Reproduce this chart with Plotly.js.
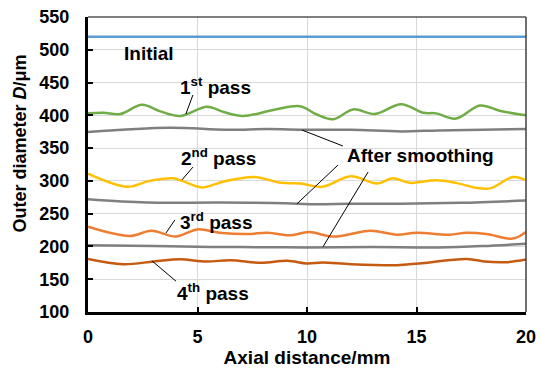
<!DOCTYPE html>
<html>
<head>
<meta charset="utf-8">
<script src="https://cdn.plot.ly/plotly-3.0.1.min.js"></script>
<style>html,body{margin:0;padding:0;background:#fff;}#chart{width:540px;height:374px;}</style>
</head>
<body>
<div id="chart"></div>
<script>
// Data
const initialX = [0, 5, 10, 15, 20];
const initialD = [520, 520, 520, 520, 520];

const pass1X = [0, 0.7, 1.46, 2.47, 3.3, 4.2, 5.43, 6.2, 7.08, 8.45, 9.68, 10.4, 11.2, 12.1, 13.1, 14.3, 15.3, 15.9, 16.8, 17.9, 18.8, 20];
const pass1D = [403, 404, 402, 416, 406, 399, 413, 405, 399, 408, 414, 402, 394, 409, 402, 417, 404, 403, 395, 415, 407, 400];

const smooth1X = [0, 3.7, 6.3, 8.2, 10, 12, 14.3, 16, 18, 20];
const smooth1D = [374.5, 381, 378, 379, 378, 378, 375.5, 377, 378, 379];

const pass2X = [0, 1.8, 2.8, 3.9, 4.3, 5.2, 6.2, 7.6, 8.8, 9.7, 10.7, 12, 13.2, 13.9, 14.7, 15.9, 16.8, 17.8, 18.4, 19.4, 20];
const pass2D = [311, 291, 300, 304, 300, 290, 299, 306, 297, 296, 291, 307, 296, 304, 297, 301, 297, 289, 289, 306, 301];

const smooth2X = [0, 2.7, 6, 9, 10.3, 12, 14.3, 17, 20];
const smooth2D = [272, 267, 267, 266, 264.5, 265, 265, 266.5, 270];

const pass3X = [0, 1.9, 2.9, 4, 5, 6, 7.3, 8.2, 9.2, 10.1, 11.2, 12.9, 14.1, 15, 16.5, 17.3, 18.2, 19.4, 20];
const pass3D = [230, 216, 224, 215, 226, 221, 219, 221, 217, 222, 215, 224, 218, 221, 218, 221, 219, 212, 222];

const smooth3X = [0, 3, 5, 7, 10, 13, 16, 18, 20];
const smooth3D = [202, 200.5, 199.5, 199, 198.5, 199, 198.5, 200.5, 204];

const pass4X = [0, 1.6, 3, 4.2, 5.4, 6.5, 7.9, 9.1, 10, 10.7, 12, 14.1, 15.1, 17.3, 18.1, 19.1, 20];
const pass4D = [181, 173, 177, 180.5, 177, 179, 175, 178, 174, 175.5, 173, 171.5, 174, 181, 177, 176, 180];

const seriesColors = {
  initial: '#5B9BD5', p1: '#70AD47', p2: '#FFC000', p3: '#ED7D31', p4: '#C55A11', smooth: '#7F7F7F'
};

const xTicks = [0, 5, 10, 15, 20];
const yTicks = [100, 150, 200, 250, 300, 350, 400, 450, 500, 550];

function tr(x, y, color) {
  return {x: x, y: y, type: 'scatter', mode: 'lines',
    line: {color: color, width: 2.5, shape: 'spline', smoothing: 1},
    hoverinfo: 'skip', showlegend: false};
}

const data = [
  tr(initialX, initialD, seriesColors.initial),
  tr(smooth1X, smooth1D, seriesColors.smooth),
  tr(pass1X, pass1D, seriesColors.p1),
  tr(smooth2X, smooth2D, seriesColors.smooth),
  tr(pass2X, pass2D, seriesColors.p2),
  tr(smooth3X, smooth3D, seriesColors.smooth),
  tr(pass3X, pass3D, seriesColors.p3),
  tr(pass4X, pass4D, seriesColors.p4)
];

const FONT = 'Arial, "Liberation Sans", sans-serif';
const annFont = {family: FONT, size: 19, color: '#000', weight: 'bold'};

function lbl(text, x, y) {
  return {text: text, x: x, y: y, xref: 'x', yref: 'y', showarrow: false, font: annFont, xanchor: 'center', yanchor: 'middle'};
}
function leader(x0, y0, x1, y1) {
  return {type: 'line', xref: 'x', yref: 'y', x0: x0, y0: y0, x1: x1, y1: y1, line: {color: '#000', width: 1}};
}

const layout = {
  width: 540, height: 374,
  margin: {l: 88, r: 14, t: 17, b: 62, pad: 0},
  paper_bgcolor: '#fff', plot_bgcolor: '#fff',
  font: {family: FONT, color: '#000'},
  xaxis: {
    range: [0, 20], tickvals: xTicks, ticktext: xTicks.map(String),
    showgrid: true, gridcolor: '#D9D9D9', gridwidth: 1, zeroline: false,
    showline: true, linecolor: '#000', linewidth: 3,
    ticks: 'inside', ticklen: 5, tickwidth: 2, tickcolor: '#000',
    tickfont: {family: FONT, size: 18, weight: 'bold'}, ticklabelstandoff: 6,
    title: {text: 'Axial distance/mm', font: {family: FONT, size: 19, weight: 'bold'}, standoff: 6}
  },
  yaxis: {
    range: [100, 550], tickvals: yTicks, ticktext: yTicks.map(String),
    showgrid: true, gridcolor: '#D9D9D9', gridwidth: 1, zeroline: false,
    showline: true, linecolor: '#000', linewidth: 3,
    ticks: 'inside', ticklen: 5, tickwidth: 2, tickcolor: '#000',
    tickfont: {family: FONT, size: 18, weight: 'bold'}, ticklabelstandoff: 12
  },
  shapes: [
    {type: 'line', xref: 'paper', yref: 'paper', x0: 0, x1: 1, y0: 1, y1: 1, line: {color: '#000', width: 1}},
    {type: 'line', xref: 'paper', yref: 'paper', x0: 1, x1: 1, y0: 0, y1: 1, line: {color: '#404040', width: 1.5}},
    leader(4.79, 431, 4.47, 402),
    leader(4.79, 321, 4.29, 301.5),
    leader(3.97, 240.5, 3.56, 220.5),
    leader(2.92, 178, 4.02, 147),
    leader(9.77, 377.6, 11.64, 353.2),
    leader(11.42, 324.3, 9.54, 265),
    leader(12.79, 313.6, 10.73, 199.5)
  ],
  annotations: [
    {text: 'Outer diameter <i>D</i>/μm', textangle: -90, xref: 'paper', yref: 'paper',
     x: -0.156, y: 0.57, xanchor: 'center', yanchor: 'middle', showarrow: false,
     font: {family: FONT, size: 18, color: '#000', weight: 'bold'}},
    lbl('Initial', 2.79, 493.6),
    lbl('1<sup>st</sup> pass', 5.84, 445),
    lbl('2<sup>nd</sup> pass', 5.94, 336.5),
    lbl('3<sup>rd</sup> pass', 5.84, 239),
    lbl('4<sup>th</sup> pass', 5.7, 130.5),
    lbl('After smoothing', 15.16, 338)
  ]
};

Plotly.newPlot('chart', data, layout, {staticPlot: true, displayModeBar: false});
</script>
</body>
</html>
